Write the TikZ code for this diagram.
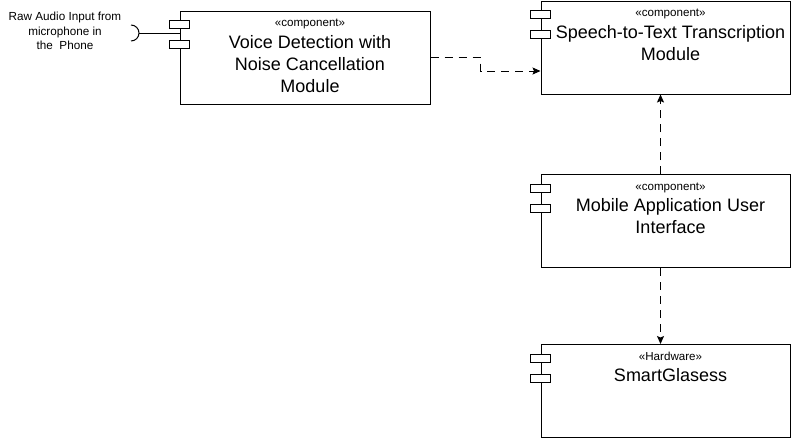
\documentclass[tikz,border=0pt]{standalone}
\usepackage{fontspec}
\setmainfont{Liberation Sans}
\usetikzlibrary{arrows.meta}
\tikzset{
  comp/.style={draw, fill=white, line width=1pt, inner sep=0pt, minimum width=249pt, minimum height=93pt},
  port/.style={draw, fill=white, line width=1pt, inner sep=0pt, minimum width=20pt, minimum height=8pt},
  stereo/.style={anchor=base, inner sep=0pt, font=\fontsize{11.6}{14}\selectfont},
  cname/.style={anchor=base, inner sep=0pt, align=center, font=\fontsize{18}{22}\selectfont},
  lbl/.style={anchor=base, inner sep=0pt, align=center, font=\fontsize{11.7}{14.3}\selectfont},
  dep/.style={line width=1pt, dash pattern=on 8pt off 6pt, -{Stealth[length=8pt, width=7pt, inset=1.5pt]}},
  wire/.style={line width=1pt}
}
\begin{document}
\begin{tikzpicture}[x=1pt, y=-1pt]
\useasboundingbox (0,0) rectangle (791,440);
% boxes
\node[comp, minimum width=250pt] (b1) at (305,57.5) {};
\node[comp] (b2) at (665.5,47.5) {};
\node[comp] (b3) at (665.5,221) {};
\node[comp] (b4) at (665.5,391) {};
% ports
\foreach \b in {b1,b2,b3,b4}{
  \node[port] (\b p1) at ([yshift=-14pt]\b.north west) {};
  \node[port] (\b p2) at ([yshift=-34pt]\b.north west) {};
}
% texts (base anchor = baseline of the last line)
\node[stereo] (s1) at ([xshift=5pt,yshift=-16pt]b1.north) {«component»};
\node[cname] (n1) at ([xshift=5pt,yshift=-81.5pt]b1.north) {Voice Detection with\\Noise Cancellation\\Module};
\node[stereo] (s2) at ([xshift=5pt,yshift=-16pt]b2.north) {«component»};
\node[cname] (n2) at ([xshift=5pt,yshift=-59.5pt]b2.north) {Speech-to-Text Transcription\\Module};
\node[stereo] (s3) at ([xshift=5pt,yshift=-16pt]b3.north) {«component»};
\node[cname] (n3) at ([xshift=5pt,yshift=-59.5pt]b3.north) {Mobile Application User\\Interface};
\node[stereo] (s4) at ([xshift=5pt,yshift=-16pt]b4.north) {«Hardware»};
\node[cname] (n4) at ([xshift=5pt,yshift=-37.5pt]b4.north) {SmartGlasess};
% required interface socket
\node[lbl] (raw) at (65,49.3) {Raw Audio Input from\\microphone in\\the~ Phone};
\coordinate (sockc) at (131,33);
\coordinate (sock) at (139,33);
\draw[wire] ([yshift=8pt]sockc) arc[start angle=90, end angle=-90, radius=8pt];
\draw[wire] (sock) -- (sock -| b1.west);
% dependencies
\draw[dep] (b1.east) -- ++(50,0) |- ([yshift=-23.5pt]b2.west);
\draw[dep] ([xshift=-5pt]b3.north) -- ([xshift=-5pt]b2.south);
\draw[dep] ([xshift=-5pt]b3.south) -- ([xshift=-5pt]b4.north);
\end{tikzpicture}
\end{document}
